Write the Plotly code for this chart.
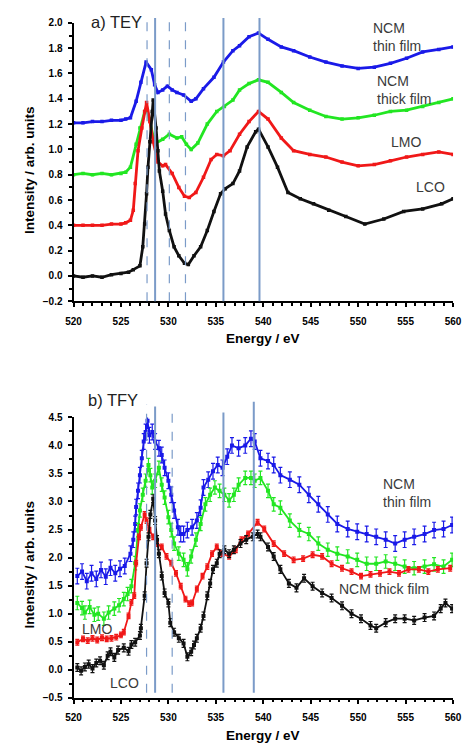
import plotly.graph_objects as go

# page body has an 8px default margin; the figure is sized/offset to compensate
OFF = 8
W, H = 471 - OFF, 751 - OFF

# ---------------- data: a) TEY ----------------
tey_ncm_thin_e = [520, 521, 522, 523, 524, 525, 525.5, 526, 526.6, 527.1, 527.65, 528.2, 528.55, 528.9, 529.4, 529.9,
                  530.4, 530.9, 531.6, 532.4, 532.9, 533.7, 534.8, 535.8, 536.8, 537.5, 538.5, 539.5, 540.5, 541.9,
                  543.2, 544.9, 546.6, 548.3, 550, 551.7, 553.4, 555.1, 556.8, 558.5, 560]
tey_ncm_thin_v = [1.21, 1.21, 1.22, 1.22, 1.23, 1.23, 1.24, 1.25, 1.38, 1.53, 1.69, 1.63, 1.51, 1.45, 1.47, 1.50,
                  1.47, 1.45, 1.43, 1.38, 1.40, 1.48, 1.57, 1.69, 1.78, 1.82, 1.89, 1.92, 1.87, 1.81,
                  1.78, 1.73, 1.69, 1.66, 1.64, 1.65, 1.68, 1.72, 1.77, 1.79, 1.81]

tey_ncm_thick_e = [520, 521, 522, 523, 524, 525, 525.5, 526, 526.6, 527.0, 527.5, 527.75, 528.0, 528.4, 528.7, 529.4,
                   530.1, 530.9, 531.4, 531.9, 532.4, 533.1, 534.1, 535.1, 535.9, 536.8, 537.5, 538.5, 539.5, 540.5,
                   541.9, 543.2, 544.9, 546.6, 548.3, 550, 551.7, 553.4, 555.1, 556.8, 558.5, 560]
tey_ncm_thick_v = [0.80, 0.81, 0.80, 0.81, 0.80, 0.81, 0.82, 0.86, 1.04, 1.17, 1.30, 1.31, 1.24, 1.10, 1.05, 1.08,
                   1.12, 1.09, 1.10, 1.04, 1.00, 1.05, 1.20, 1.30, 1.34, 1.39, 1.47, 1.52, 1.55, 1.53,
                   1.45, 1.37, 1.31, 1.26, 1.24, 1.25, 1.27, 1.30, 1.31, 1.34, 1.37, 1.40]

tey_lmo_e = [520, 521, 522, 523, 524, 525, 525.5, 526, 526.3, 526.5, 526.8, 527.2, 527.5, 527.7, 528.05, 528.4,
             528.9, 529.4, 529.7, 530.4, 531.1, 531.7, 532.2, 532.9, 533.7, 534.5, 535.1, 535.8, 536.5, 537.5,
             538.5, 539.5, 540.5, 541.9, 543.2, 544.9, 546.6, 548.3, 550, 551.7, 553.4, 555.1, 556.8, 558.5, 560]
tey_lmo_v = [0.40, 0.40, 0.40, 0.40, 0.41, 0.41, 0.42, 0.44, 0.52, 0.73, 0.99, 1.17, 1.30, 1.37, 1.22, 1.06,
             0.90, 0.87, 0.88, 0.81, 0.70, 0.63, 0.62, 0.66, 0.78, 0.92, 0.96, 0.95, 0.99, 1.12,
             1.22, 1.30, 1.24, 1.09, 0.99, 0.96, 0.94, 0.90, 0.87, 0.88, 0.91, 0.94, 0.96, 0.98, 0.96]

tey_lco_e = [520, 521, 522, 523, 524, 525, 525.8, 526.3, 527.0, 527.3, 527.5, 527.7, 527.85, 528.05, 528.3, 528.4,
             528.7, 528.9, 529.05, 529.4, 529.7, 530.1, 530.6, 531.1, 531.7, 532.1, 532.7, 533.4, 534.1, 534.8,
             535.5, 536.0, 536.8, 537.5, 538.3, 539.2, 539.5, 540.5, 541.5, 542.6, 543.9, 545.3, 546.9, 548.7,
             550.7, 552.7, 554.8, 556.8, 558.8, 560]
tey_lco_v = [0.00, -0.01, 0.00, -0.01, 0.01, 0.02, 0.03, 0.05, 0.08, 0.23, 0.41, 0.65, 0.86, 1.06, 1.30, 1.39,
             1.17, 0.99, 0.83, 0.67, 0.49, 0.36, 0.23, 0.16, 0.10, 0.09, 0.16, 0.23, 0.36, 0.51,
             0.65, 0.69, 0.73, 0.83, 1.02, 1.14, 1.16, 1.02, 0.86, 0.66, 0.61, 0.57, 0.52, 0.47,
             0.41, 0.45, 0.51, 0.53, 0.57, 0.61]

# ---------------- data: b) TFY ----------------
tfy_ncm_thin_e = [520.4, 520.9, 521.4, 521.9, 522.4, 522.9, 523.4, 523.9, 524.4, 524.9, 525.4, 526.0, 526.3, 526.5,
                  526.6, 526.8, 527.0, 527.2, 527.4, 527.6, 527.8, 528.0, 528.3, 528.6, 529.0, 529.3, 529.6, 530.0,
                  530.3, 530.6, 531.0, 531.3, 531.6, 532.0, 532.5, 533.0, 533.4, 533.7, 534.2, 534.7, 535.2, 535.7,
                  536.2, 536.7, 537.4, 538.1, 538.7, 539.1, 539.7, 540.5, 541.1, 541.8, 542.8, 543.8, 544.8, 545.8,
                  546.8, 547.8, 548.9, 549.9, 550.9, 551.9, 552.9, 553.9, 554.9, 555.9, 557.0, 558.0, 559.0, 559.9]
tfy_ncm_thin_v = [1.67, 1.75, 1.58, 1.72, 1.62, 1.78, 1.66, 1.82, 1.72, 1.80, 1.85, 2.07, 2.32, 2.60,
                  2.90, 3.19, 3.47, 3.77, 4.07, 4.24, 4.44, 4.18, 4.24, 4.07, 3.95, 3.83, 3.60, 3.37,
                  3.12, 2.84, 2.54, 2.42, 2.42, 2.49, 2.54, 2.66, 2.89, 3.25, 3.39, 3.54, 3.65, 3.60,
                  3.80, 4.00, 3.95, 4.00, 4.12, 4.07, 3.77, 3.72, 3.65, 3.47, 3.39, 3.30, 3.12, 2.95,
                  2.77, 2.60, 2.51, 2.46, 2.42, 2.37, 2.32, 2.25, 2.32, 2.37, 2.42, 2.49, 2.51, 2.58]

tfy_ncm_thick_e = [520.4, 520.9, 521.2, 521.7, 522.2, 522.6, 523.2, 523.7, 524.3, 524.8, 525.3, 525.7, 526.1, 526.5,
                   526.8, 527.0, 527.3, 527.6, 527.9, 528.1, 528.3, 528.6, 529.0, 529.3, 529.6, 530.0, 530.3, 530.6,
                   531.1, 531.6, 532.0, 532.4, 532.9, 533.4, 533.9, 534.4, 534.9, 535.4, 535.9, 536.4, 536.9, 537.4,
                   538.1, 538.7, 539.1, 539.7, 540.5, 541.1, 541.8, 542.8, 543.8, 544.8, 545.8, 546.8, 547.8, 548.9,
                   549.9, 550.9, 551.9, 552.9, 553.9, 554.9, 555.9, 557.0, 558.0, 559.0, 559.9]
tfy_ncm_thick_v = [1.19, 1.10, 1.02, 1.12, 0.98, 1.00, 0.91, 1.02, 1.09, 1.15, 1.26, 1.35, 1.49, 1.90,
                   2.49, 2.84, 3.12, 3.37, 3.65, 3.47, 3.25, 3.37, 3.60, 3.30, 3.07, 2.72, 2.49, 2.25,
                   2.07, 1.96, 1.79, 2.02, 2.32, 2.60, 2.95, 3.12, 3.25, 3.19, 3.12, 3.02, 3.12, 3.30,
                   3.42, 3.42, 3.37, 3.42, 3.19, 2.95, 2.89, 2.66, 2.49, 2.42, 2.25, 2.14, 2.07, 2.02,
                   1.96, 1.89, 1.89, 1.93, 1.89, 1.84, 1.81, 1.84, 1.88, 1.84, 1.96]

tfy_lmo_e = [520.4, 521.0, 521.5, 522.0, 522.5, 523.0, 523.5, 524.0, 524.5, 525.0, 525.3, 525.8, 526.1, 526.4,
             526.6, 526.9, 527.1, 527.5, 527.7, 528.0, 528.4, 528.8, 529.3, 529.8, 530.3, 530.8, 531.3, 531.8,
             532.2, 532.5, 533.0, 533.6, 534.1, 534.6, 535.1, 535.7, 536.4, 537.1, 537.7, 538.4, 539.4, 540.1,
             541.1, 542.2, 543.2, 544.2, 545.2, 546.2, 547.2, 548.3, 549.3, 550.3, 551.3, 552.3, 553.3, 554.3,
             555.3, 556.4, 557.4, 558.4, 559.7]
tfy_lmo_v = [0.49, 0.55, 0.52, 0.56, 0.53, 0.57, 0.55, 0.56, 0.58, 0.62, 0.67, 0.96, 1.20, 1.32,
             1.90, 2.37, 2.54, 2.77, 2.66, 2.49, 2.37, 2.25, 2.19, 2.02, 1.90, 1.72, 1.49, 1.26,
             1.18, 1.19, 1.44, 1.67, 1.84, 2.07, 2.19, 2.07, 2.02, 2.14, 2.32, 2.42, 2.63, 2.51,
             2.25, 2.07, 1.96, 1.98, 2.05, 2.02, 1.89, 1.81, 1.75, 1.67, 1.70, 1.72, 1.75, 1.72,
             1.79, 1.79, 1.75, 1.79, 1.81]

tfy_lco_e = [520.4, 520.8, 521.2, 521.6, 522.0, 522.4, 522.8, 523.2, 523.6, 523.9, 524.3, 524.7, 525.3, 525.8,
             526.1, 526.5, 527.0, 527.1, 527.5, 527.7, 527.9, 528.1, 528.4, 528.6, 528.8, 529.0, 529.3, 529.6,
             530.0, 530.2, 530.6, 531.1, 531.6, 532.0, 532.4, 532.7, 533.0, 533.4, 533.7, 534.1, 534.4, 534.7,
             535.1, 535.4, 535.9, 536.4, 536.9, 537.6, 538.2, 538.9, 539.4, 539.7, 540.5, 541.1, 541.8, 542.7,
             543.5, 544.3, 545.2, 546.2, 547.2, 548.3, 549.3, 550.3, 551.3, 551.9, 552.9, 553.9, 554.9, 555.9,
             557.0, 558.0, 558.7, 559.2, 559.9]
tfy_lco_v = [0.04, -0.02, 0.05, 0.10, 0.02, 0.12, 0.16, 0.08, 0.25, 0.32, 0.22, 0.35, 0.39, 0.33,
             0.45, 0.49, 0.61, 0.74, 1.32, 1.90, 2.37, 2.77, 3.05, 2.66, 2.32, 2.07, 1.67, 1.37,
             1.19, 0.84, 0.67, 0.56, 0.47, 0.23, 0.32, 0.44, 0.56, 0.74, 0.96, 1.32, 1.54, 1.79,
             1.90, 2.07, 2.14, 2.07, 2.14, 2.25, 2.32, 2.37, 2.42, 2.37, 2.19, 2.02, 1.79, 1.54,
             1.46, 1.63, 1.49, 1.37, 1.28, 1.14, 1.00, 0.91, 0.79, 0.74, 0.84, 0.91, 0.91, 0.88,
             0.93, 0.96, 1.09, 1.19, 1.09]

# uncertainty half-widths of the TFY error bars
tfy_err_ncm_thin = 0.14
tfy_err_ncm_thick = 0.12
tfy_err_lmo = 0.05
tfy_err_lco = 0.07

# reference lines (eV): (energy, dashed?)
tey_ref_lines = [(527.75, True), (528.6, False), (530.1, True), (531.8, True), (535.8, False), (539.6, False)]
tfy_ref_lines = [(527.7, True), (528.6, False), (530.4, True), (535.8, False), (539.0, False)]

x_ticks = [520, 525, 530, 535, 540, 545, 550, 555, 560]
tey_y_range = [-0.2, 2.0]
tfy_y_range = [-0.5, 4.5]

# ---------------- styling ----------------
BLUE, GREEN, RED, BLACK = "#1a1ae8", "#22e622", "#f01818", "#111111"
REF = "#7b9bc8"
FONT = "Liberation Sans"

def px(x):
    return (x - OFF) / W

def py(y):
    return 1 - (y - OFF) / H

fig = go.Figure()

tey_series = [
    (tey_ncm_thin_e, tey_ncm_thin_v, BLUE),
    (tey_ncm_thick_e, tey_ncm_thick_v, GREEN),
    (tey_lmo_e, tey_lmo_v, RED),
    (tey_lco_e, tey_lco_v, BLACK),
]
for e, v, c in tey_series:
    fig.add_trace(go.Scatter(x=e, y=v, mode="lines+markers", xaxis="x", yaxis="y",
                             line=dict(color=c, width=2.8), marker=dict(color=c, size=3.5, symbol="square"),
                             showlegend=False))

tfy_series = [
    (tfy_ncm_thin_e, tfy_ncm_thin_v, BLUE, tfy_err_ncm_thin),
    (tfy_ncm_thick_e, tfy_ncm_thick_v, GREEN, tfy_err_ncm_thick),
    (tfy_lmo_e, tfy_lmo_v, RED, tfy_err_lmo),
    (tfy_lco_e, tfy_lco_v, BLACK, tfy_err_lco),
]
for e, v, c, err in tfy_series:
    fig.add_trace(go.Scatter(x=e, y=v, mode="lines+markers", xaxis="x2", yaxis="y2",
                             line=dict(color=c, width=1.8), marker=dict(color=c, size=4, symbol="square"),
                             error_y=dict(type="constant", value=err, color=c, thickness=1.2, width=2),
                             showlegend=False))

shapes = []
for e, dashed in tey_ref_lines:
    shapes.append(dict(type="line", xref="x", yref="paper", x0=e, x1=e, y0=py(300), y1=py(12),
                       line=dict(color=REF, width=1.2 if dashed else 2, dash="dash" if dashed else "solid"),
                       layer="above"))
tfy_tops = [405, 407, 407, 413, 402]
for (e, dashed), top in zip(tfy_ref_lines, tfy_tops):
    shapes.append(dict(type="line", xref="x2", yref="paper", x0=e, x1=e, y0=py(698), y1=py(top),
                       line=dict(color=REF, width=1.2 if dashed else 2, dash="dash" if dashed else "solid"),
                       layer="above"))

axis_common = dict(showline=True, linecolor="black", linewidth=2, mirror=False, showgrid=False, zeroline=False,
                   ticks="outside", ticklen=4, tickwidth=1.5, tickcolor="black",
                   tickfont=dict(family=FONT, size=10, color="black", weight="bold"))

xdom = [px(67.7), px(461.7)]
fig.update_layout(
    width=W, height=H, margin=dict(l=0, r=0, t=0, b=0),
    paper_bgcolor="white", plot_bgcolor="white",
    xaxis=dict(domain=xdom, range=[520, 560], tickvals=x_ticks, anchor="y",
               minor=dict(dtick=1, ticks="outside", ticklen=2.5, tickcolor="black"),
               ticklabelstandoff=6, **axis_common),
    yaxis=dict(domain=[py(300), py(17)], range=tey_y_range, dtick=0.2, tickformat=".1f", anchor="x",
               minor=dict(dtick=0.1, ticks="outside", ticklen=2.5, tickcolor="black"),
               ticklabelstandoff=3, **axis_common),
    xaxis2=dict(domain=xdom, range=[520, 560], tickvals=x_ticks, anchor="y2",
                minor=dict(dtick=1, ticks="outside", ticklen=2.5, tickcolor="black"),
                ticklabelstandoff=5, **axis_common),
    yaxis2=dict(domain=[py(703), py(418)], range=tfy_y_range, dtick=0.5, tickformat=".1f", anchor="x2",
                minor=dict(dtick=0.25, ticks="outside", ticklen=2.5, tickcolor="black"),
                ticklabelstandoff=3, **axis_common),
    shapes=shapes,
)

label_font = dict(family=FONT, size=14, color="#3a3a3a")
bold_title = dict(family=FONT, size=13.5, color="black", weight="bold")
anns = [
    dict(text="a) TEY", x=px(84), y=py(16), xanchor="left", yanchor="middle",
         font=dict(family=FONT, size=16.5, color="#222")),
    dict(text="b) TFY", x=px(81), y=py(400), xanchor="left", yanchor="middle",
         font=dict(family=FONT, size=16.5, color="#222")),
    dict(text="Energy / eV", x=px(264), y=py(338), xanchor="center", yanchor="middle", font=bold_title),
    dict(text="Energy / eV", x=px(264), y=py(741), xanchor="center", yanchor="middle", font=bold_title),
    dict(text="Intensity / arb. units", x=px(22), y=py(166), textangle=-90, xanchor="center", yanchor="middle",
         font=bold_title),
    dict(text="Intensity / arb. units", x=px(22), y=py(567), textangle=-90, xanchor="center", yanchor="middle",
         font=bold_title),
    # TEY labels
    dict(text="NCM<br>thin film", x=px(377), y=py(31), xanchor="left", yanchor="middle", align="left", font=label_font),
    dict(text="NCM<br>thick film", x=px(381), y=py(85), xanchor="left", yanchor="middle", align="left", font=label_font),
    dict(text="LMO", x=px(395), y=py(138), xanchor="left", yanchor="middle", font=label_font),
    dict(text="LCO", x=px(421), y=py(184), xanchor="left", yanchor="middle", font=label_font),
    # TFY labels
    dict(text="NCM<br>thin film", x=px(387), y=py(495), xanchor="left", yanchor="middle", align="left", font=label_font),
    dict(text="NCM thick film", x=px(341), y=py(592), xanchor="left", yanchor="middle", font=label_font),
    dict(text="LMO", x=px(74), y=py(633), xanchor="left", yanchor="middle", font=label_font),
    dict(text="LCO", x=px(104), y=py(688), xanchor="left", yanchor="middle", font=label_font),
]
for a in anns:
    a.update(xref="paper", yref="paper", showarrow=False)
fig.update_layout(annotations=anns)

fig.write_html("out.html")
